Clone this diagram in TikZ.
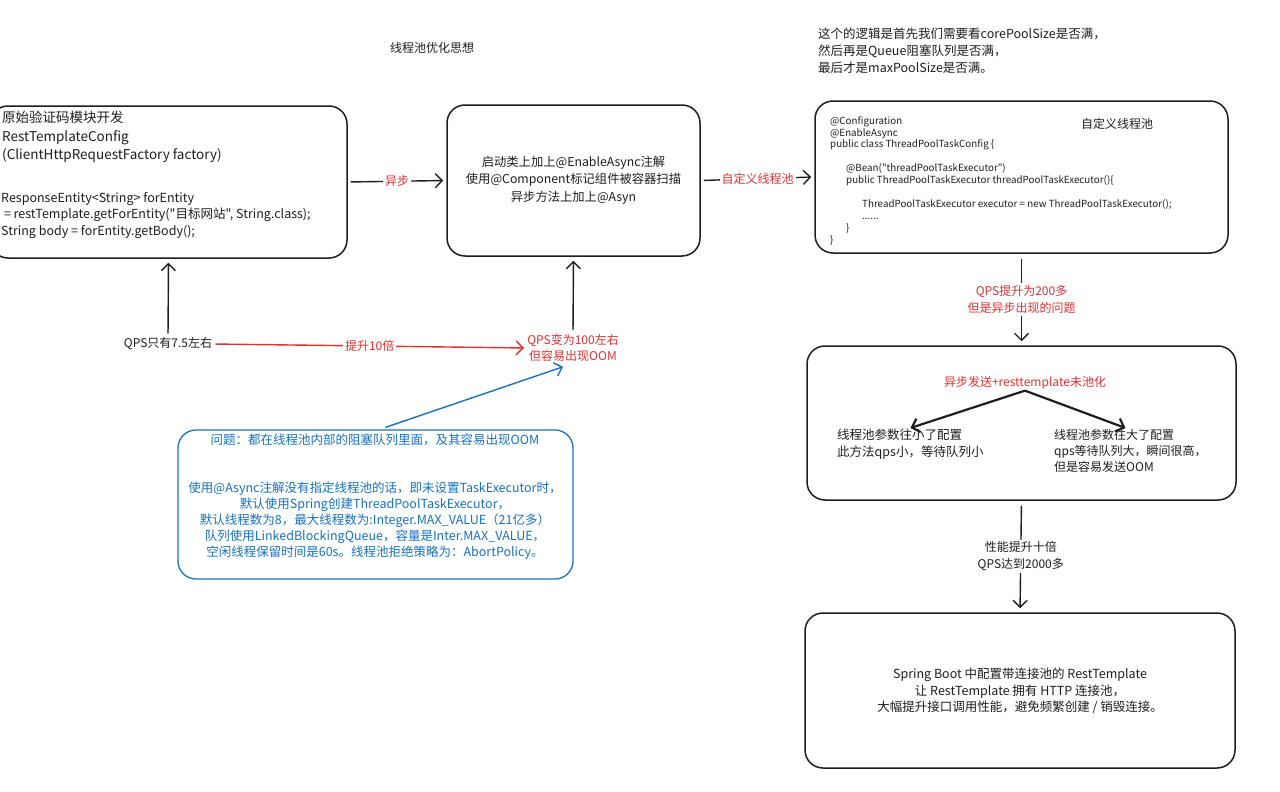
\documentclass[tikz,border=0pt]{standalone}
\usepackage{fontspec}
\setmainfont{Noto Sans CJK SC}[Ligatures=TeXOff]
\usetikzlibrary{arrows.meta}
\definecolor{exred}{HTML}{E03131}
\definecolor{exblue}{HTML}{1971C2}
\definecolor{ink}{HTML}{1E1E1E}
\begin{document}
\begin{tikzpicture}[x=1pt,y=-1pt,
  box/.style={draw=ink,line width=1.5pt,rounded corners=18pt,inner sep=0pt},
  bluebox/.style={draw=exblue,line width=1.3pt,rounded corners=18pt,inner sep=0pt},
  txt/.style={text=ink,inner sep=1pt,font=\fontsize{12}{17}\selectfont},
  lbl/.style={fill=white,inner sep=2pt,font=\fontsize{12}{17}\selectfont,align=center},
  arr/.style={draw=ink,line width=1.4pt,-{Straight Barb[length=7pt,width=14pt]}},
  redarr/.style={draw=exred,line width=1.4pt,-{Straight Barb[length=7pt,width=14pt]}},
  bluearr/.style={draw=exblue,line width=1.4pt,-{Straight Barb[length=7pt,width=14pt]}}
]
\useasboundingbox (0,0) rectangle (1280,792);
\fill[white] (0,0) rectangle (1280,792);

% title
\node[txt] (title) at (432,48) {线程池优化思想};

% top-right note
\node[txt,anchor=north west,align=left,font=\fontsize{12.5}{17}\selectfont] (note) at (817,27)
  {这个的逻辑是首先我们需要看corePoolSize是否满，\\
   然后再是Queue阻塞队列是否满，\\
   最后才是maxPoolSize是否满。};

% Box A
\node[box,minimum width=357pt,minimum height=152pt] (A) at (168.5,182) {};
\node[txt,anchor=north west,align=left,font=\fontsize{13.5}{18.5}\selectfont] (A1) at (1,110)
  {原始验证码模块开发\\RestTemplateConfig\\(ClientHttpRequestFactory factory)};
\node[txt,anchor=north west,align=left,font=\fontsize{12.5}{16.5}\selectfont] (A2) at (0,191)
  {ResponseEntity<String> forEntity\\
   \ = restTemplate.getForEntity("目标网站", String.class);\\
   String body = forEntity.getBody();};

% Box B
\node[box,minimum width=253pt,minimum height=151pt] (B) at (573.5,180.5) {};
\node[txt,align=center,font=\fontsize{12.3}{17.5}\selectfont] (Bt) at (573.5,180)
  {启动类上加上@EnableAsync注解\\使用@Component标记组件被容器扫描\\异步方法上加上@Asyn};

% Box C
\node[box,minimum width=413pt,minimum height=152pt] (C) at (1021.5,177) {};
\node[txt] (Ct) at (1117,124) {自定义线程池};
\node[txt,anchor=north west,align=left,font=\fontsize{9.8}{11.9}\selectfont] (code) at (829,115)
  {@Configuration\\
   @EnableAsync\\
   public class ThreadPoolTaskConfig \{\\
   \mbox{}\\
   \hspace*{16pt}@Bean("threadPoolTaskExecutor")\\
   \hspace*{16pt}public ThreadPoolTaskExecutor threadPoolTaskExecutor()\{\\
   \mbox{}\\
   \hspace*{32pt}ThreadPoolTaskExecutor executor = new ThreadPoolTaskExecutor();\\
   \hspace*{32pt}......\\
   \hspace*{16pt}\}\\
   \}};

% Box D
\node[box,minimum width=429pt,minimum height=154pt] (D) at (1021.5,423) {};
\node[txt,text=exred] (Dt) at (1025,383) {异步发送+resttemplate未池化};
\node[txt,anchor=north west,align=left,font=\fontsize{12.5}{17}\selectfont] (Dl) at (836,428)
  {线程池参数往小了配置\\此方法qps小，等待队列小};
\node[txt,anchor=north west,align=left,font=\fontsize{12}{16}\selectfont] (Dr) at (1053,428)
  {线程池参数往大了配置\\qps等待队列大，瞬间很高，\\但是容易发送OOM};
\draw[arr,line width=2.2pt] (Dt.south) -- (Dl.north);
\draw[arr,line width=2.2pt] (Dt.south) -- ([xshift=-5pt]Dr.north);

% Box E
\node[box,minimum width=430pt,minimum height=155pt] (E) at (1020,690.5) {};
\node[txt,align=center,font=\fontsize{12.5}{16.5}\selectfont] (Et) at (1020,691)
  {Spring Boot 中配置带连接池的 RestTemplate\\
   让 RestTemplate 拥有 HTTP 连接池，\\
   大幅提升接口调用性能，避免频繁创建 / 销毁连接。};

% Blue box F
\node[bluebox,minimum width=395pt,minimum height=149pt] (F) at (375.5,504.5) {};
\node[txt,text=exblue,font=\fontsize{12.5}{17}\selectfont] (F1) at (375,440) {问题：都在线程池内部的阻塞队列里面，及其容易出现OOM};
\node[txt,text=exblue,align=center,font=\fontsize{12.5}{16}\selectfont] (F2) at (375,521)
  {使用@Async注解没有指定线程池的话，即未设置TaskExecutor时，\\
   默认使用Spring创建ThreadPoolTaskExecutor，\\
   默认线程数为8，最大线程数为:Integer.MAX\_VALUE（21亿多）\\
   队列使用LinkedBlockingQueue，容量是Inter.MAX\_VALUE，\\
   空闲线程保留时间是60s。线程池拒绝策略为：AbortPolicy。};

% QPS labels
\node[txt] (q1) at (168,344) {QPS只有7.5左右};
\node[txt,text=exred,align=center,font=\fontsize{12}{16}\selectfont] (q2) at (573,348)
  {QPS变为100左右\\但容易出现OOM};

% connectors
\draw[arr,shorten <=3pt,shorten >=3pt] (A.east) -- node[lbl,text=exred]{异步} (B.west);
\draw[arr,shorten <=3pt,shorten >=3pt] (B.east) -- node[lbl,text=exred]{自定义线程池} (C.west);
\draw[arr,shorten <=3pt,shorten >=4pt] (q1.north) -- (A.south);
\draw[arr,shorten <=3pt,shorten >=4pt] (q2.north) -- (B.south);
\draw[redarr,shorten <=2pt,shorten >=2pt] (q1.east) -- node[lbl,text=exred]{提升10倍} (q2.west);
\draw[bluearr] ([xshift=10pt,yshift=2pt]F.north) -- ([xshift=-10pt,yshift=-4pt]q2.south);
\draw[arr,shorten <=5pt,shorten >=4pt] (C.south) -- node[lbl,text=exred,font=\fontsize{12}{17}\selectfont]{QPS提升为200多\\但是异步出现的问题} (D.north);
\draw[arr,shorten <=5pt,shorten >=4pt] (D.south) -- node[lbl,text=ink,font=\fontsize{12}{17}\selectfont]{性能提升十倍\\QPS达到2000多} (E.north);
\end{tikzpicture}
\end{document}
